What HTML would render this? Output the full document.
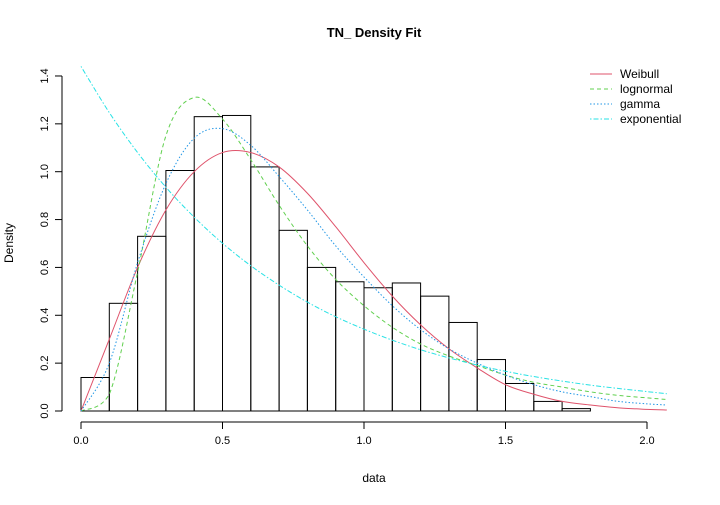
<!DOCTYPE html>
<html><head><meta charset="utf-8"><style>
body{margin:0;background:#fff}
svg{font-family:"Liberation Sans",Arial,sans-serif}
</style></head><body>
<svg id="chart" width="720" height="500" viewBox="0 0 720 500" xmlns="http://www.w3.org/2000/svg">
<rect width="720" height="500" fill="#fff"/>
<text x="374" y="37" text-anchor="middle" font-size="13" font-weight="bold">TN_ Density Fit</text>
<text x="374" y="482" text-anchor="middle" font-size="12">data</text>
<text x="13" y="243" text-anchor="middle" font-size="12" transform="rotate(-90 13 243)">Density</text>
<g id="plot"></g>
<g font-size="12">
<line x1="590" y1="74" x2="612" y2="74" stroke="#DF536B"/><text x="620" y="78">Weibull</text>
<line x1="590" y1="89" x2="612" y2="89" stroke="#61D04F" stroke-dasharray="4,3"/><text x="620" y="93">lognormal</text>
<line x1="590" y1="104" x2="612" y2="104" stroke="#2297E6" stroke-dasharray="1.5,2"/><text x="620" y="108">gamma</text>
<line x1="590" y1="119" x2="612" y2="119" stroke="#28E2E5" stroke-dasharray="1.5,2,5,2"/><text x="620" y="123">exponential</text>
</g>
</svg>
<script>
const binStarts=[0,0.1,0.2,0.3,0.4,0.5,0.6,0.7,0.8,0.9,1.0,1.1,1.2,1.3,1.4,1.5,1.6,1.7];
const binHeights=[0.14,0.45,0.73,1.005,1.23,1.235,1.02,0.755,0.60,0.54,0.515,0.535,0.48,0.37,0.215,0.115,0.04,0.01];
const curveX=[0,0.1,0.2,0.3,0.4,0.5,0.6,0.7,0.8,0.9,1.0,1.1,1.2,1.3,1.4,1.5,1.6,1.7,1.8,1.9,2.0,2.07];
const weibullY=[0,0.3,0.6,0.84,1.0,1.08,1.08,1.02,0.91,0.77,0.62,0.48,0.36,0.26,0.18,0.11,0.07,0.04,0.025,0.013,0.007,0.004];
const lognormalY=[0,0.07,0.58,1.15,1.31,1.22,1.05,0.86,0.69,0.55,0.44,0.35,0.28,0.23,0.19,0.15,0.12,0.10,0.08,0.065,0.055,0.048];
const gammaY=[0,0.2,0.62,0.95,1.14,1.18,1.11,0.98,0.84,0.69,0.56,0.44,0.34,0.26,0.2,0.15,0.11,0.08,0.06,0.04,0.03,0.025];
const exponentialY=[1.44,1.247,1.080,0.935,0.810,0.701,0.607,0.526,0.455,0.394,0.342,0.296,0.256,0.222,0.192,0.166,0.144,0.125,0.108,0.094,0.081,0.072];
const xTicks=[0,0.5,1.0,1.5,2.0];
const yTicks=[0,0.2,0.4,0.6,0.8,1.0,1.2,1.4];
const X=v=>81+v*283, Y=v=>411-v*239.3;
const NS="http://www.w3.org/2000/svg", g=document.getElementById('plot');
function mk(t,a){const e=document.createElementNS(NS,t);for(const k in a)e.setAttribute(k,a[k]);g.appendChild(e);return e;}
binStarts.forEach((b,i)=>{const r=mk('rect',{x:X(b),y:Y(binHeights[i]),width:X(b+0.1)-X(b),height:Y(0)-Y(binHeights[i]),fill:'none',stroke:'#000'});

});
const base=Y(0);
function cl(v){return Math.min(v,base);}
function smooth(ys){const p=curveX.map((x,i)=>[X(x),Y(ys[i])]);let d='M'+p[0][0]+','+p[0][1];
for(let i=0;i<p.length-1;i++){const p0=p[i-1]||p[i],p1=p[i],p2=p[i+1],p3=p[i+2]||p2;
d+=' C'+(p1[0]+(p2[0]-p0[0])/6)+','+cl(p1[1]+(p2[1]-p0[1])/6)+' '+(p2[0]-(p3[0]-p1[0])/6)+','+cl(p2[1]-(p3[1]-p1[1])/6)+' '+p2[0]+','+p2[1];}return d;}
[[weibullY,'#DF536B','none','weibull-curve'],[lognormalY,'#61D04F','4,3','lognormal-curve'],[gammaY,'#2297E6','1.5,2','gamma-curve'],[exponentialY,'#28E2E5','1.5,2,5,2','exponential-curve']].forEach(s=>{
const p=mk('path',{d:smooth(s[0]),fill:'none',stroke:s[1],'stroke-dasharray':s[2]});

});
const xa=mk('line',{x1:X(0),y1:422,x2:X(2),y2:422,stroke:'#000'});


xTicks.forEach(t=>{mk('line',{x1:X(t),y1:422,x2:X(t),y2:429,stroke:'#000'});
const tx=mk('text',{x:X(t),y:444,'text-anchor':'middle','font-size':'11'});tx.textContent=t.toFixed(1);

});
const ya=mk('line',{x1:62,y1:Y(0),x2:62,y2:Y(1.4),stroke:'#000'});


yTicks.forEach(t=>{mk('line',{x1:55,y1:Y(t),x2:62,y2:Y(t),stroke:'#000'});
const tx=mk('text',{x:48,y:Y(t),'text-anchor':'middle','font-size':'11',transform:'rotate(-90 48 '+Y(t)+')'});tx.textContent=t.toFixed(1);

});
</script>
</body></html>
